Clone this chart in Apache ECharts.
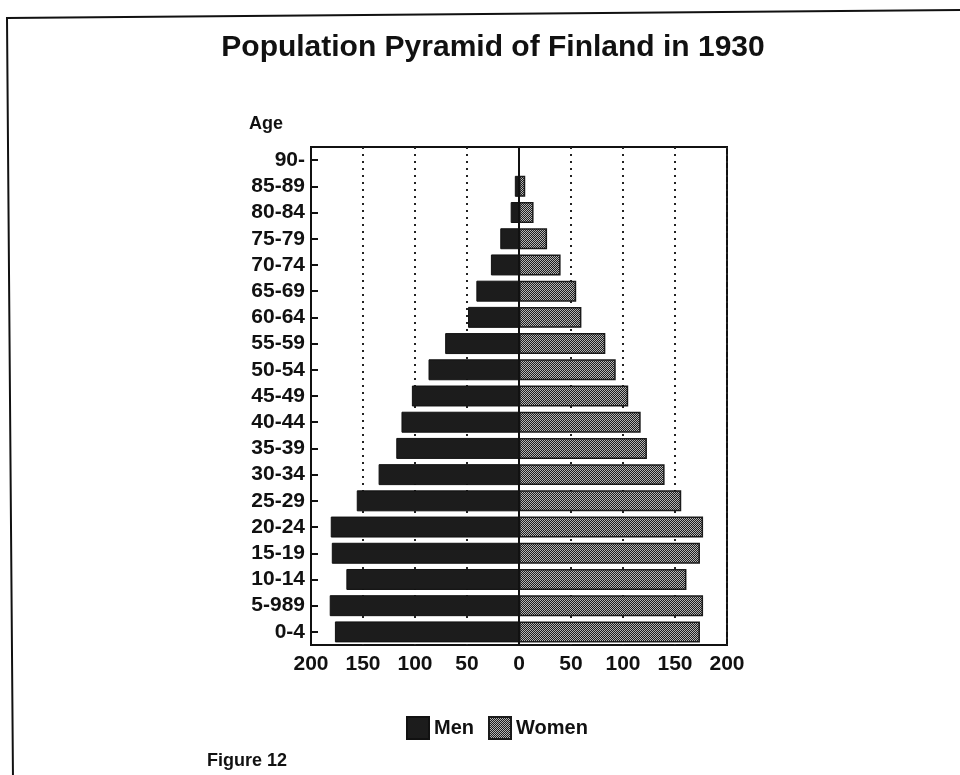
<!DOCTYPE html>
<html>
<head>
<meta charset="utf-8">
<script src="https://cdn.jsdelivr.net/npm/echarts@6/dist/echarts.min.js"></script>
<style>
  html, body { margin: 0; padding: 0; background: #fff; }
  #chart { width: 960px; height: 775px; }
</style>
</head>
<body>
<div id="chart"></div>
<script>
// age groups, bottom to top (label "5-989" is as printed in the figure)
const ageGroups = ['0-4', '5-989', '10-14', '15-19', '20-24', '25-29', '30-34', '35-39', '40-44',
  '45-49', '50-54', '55-59', '60-64', '65-69', '70-74', '75-79', '80-84', '85-89', '90-']
// thousands (90- is too small to show)
const men = [177, 182, 166, 180, 181, 156, 135, 118, 113, 103, 87, 71, 49, 41, 27, 18, 8, 4, 0]
const women = [174, 177, 161, 174, 177, 156, 140, 123, 117, 105, 93, 83, 60, 55, 40, 27, 14, 6, 0]
const xTicks = [-200, -150, -100, -50, 0, 50, 100, 150, 200]

const font = '"Liberation Sans", Arial, sans-serif'

// checkered fill for women bars
const pat = document.createElement('canvas')
pat.width = 2
pat.height = 2
const ctx = pat.getContext('2d')
ctx.fillStyle = '#1e1e1e'
ctx.fillRect(0, 0, 2, 2)
ctx.fillStyle = '#b4b4b4'
ctx.fillRect(0, 0, 1, 1)
ctx.fillRect(1, 1, 1, 1)
const womenFill = { image: pat, repeat: 'repeat' }

const myChart = echarts.init(document.getElementById('chart'))

const option = {
  backgroundColor: '#fff',
  animation: false,
  title: {
    text: 'Population Pyramid of Finland in 1930',
    left: 488,
    textAlign: 'center',
    top: 28,
    textStyle: { fontFamily: font, fontSize: 30, fontWeight: 'bold', color: '#111' }
  },
  legend: {
    left: 401,
    top: 711,
    itemWidth: 22,
    itemHeight: 22,
    itemGap: 14,
    icon: 'rect',
    textStyle: { fontFamily: font, fontSize: 20, fontWeight: 'bold', color: '#111' },
    data: ['Men', 'Women']
  },
  grid: {
    left: 311,
    right: 233,
    top: 147,
    bottom: 130,
    show: true,
    borderColor: '#111',
    borderWidth: 2
  },
  xAxis: {
    type: 'value',
    min: xTicks[0],
    max: xTicks[xTicks.length - 1],
    interval: 50,
    axisLine: { show: false },
    axisTick: { show: false },
    axisLabel: {
      margin: 9,
      color: '#111',
      fontFamily: font,
      fontSize: 21,
      fontWeight: 'bold',
      formatter: v => String(Math.abs(v))
    },
    splitLine: {
      show: true,
      lineStyle: { type: [2, 5], color: '#222', width: 2 }
    }
  },
  yAxis: {
    type: 'category',
    data: ageGroups,
    axisLine: { show: true, onZero: false, lineStyle: { color: '#111', width: 2 } },
    axisTick: { show: true, inside: true, length: 7, alignWithLabel: true, lineStyle: { color: '#111', width: 2 } },
    axisLabel: {
      interval: 0,
      margin: 6,
      color: '#111',
      fontFamily: font,
      fontSize: 21,
      fontWeight: 'bold'
    }
  },
  series: [
    {
      name: 'Men',
      type: 'bar',
      stack: 'pop',
      barCategoryGap: '20%',
      data: men.map(v => (v ? -v : null)),
      itemStyle: { color: '#1c1c1c', borderColor: '#111', borderWidth: 1 },
      markLine: {
        silent: true,
        symbol: 'none',
        label: { show: false },
        lineStyle: { color: '#111', width: 2, type: 'solid' },
        data: [{ xAxis: 0 }]
      }
    },
    {
      name: 'Women',
      type: 'bar',
      stack: 'pop',
      barCategoryGap: '20%',
      data: women.map(v => (v ? v : null)),
      itemStyle: { color: womenFill, borderColor: '#1a1a1a', borderWidth: 1.5 }
    }
  ],
  graphic: [
    {
      type: 'polyline',
      shape: { points: [[13, 780], [7, 18], [965, 10]] },
      style: { stroke: '#111', lineWidth: 2, fill: null }
    },
    {
      type: 'text',
      left: 249,
      top: 115,
      style: { text: 'Age', font: 'bold 18px ' + font, fill: '#111' }
    },
    {
      type: 'text',
      left: 207,
      top: 752,
      style: { text: 'Figure 12', font: 'bold 18px ' + font, fill: '#111' }
    }
  ]
}

myChart.setOption(option)
</script>
</body>
</html>
